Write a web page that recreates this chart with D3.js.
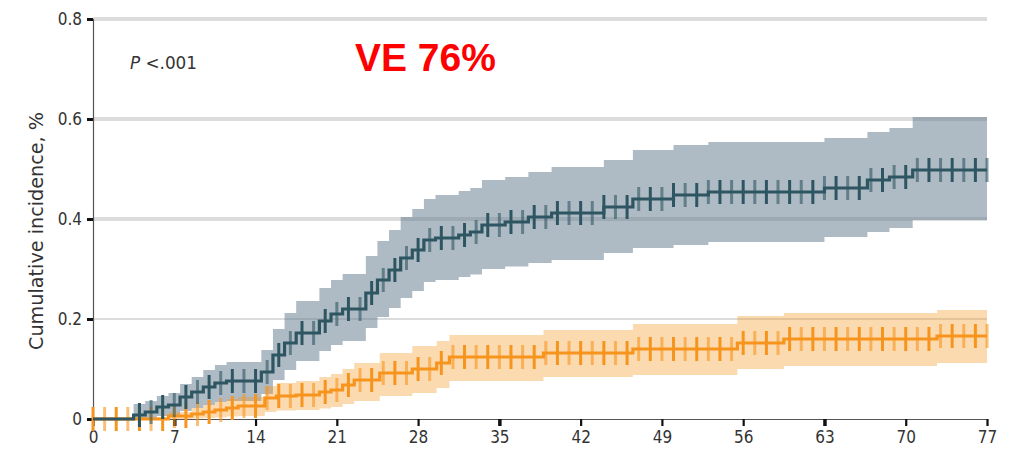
<!DOCTYPE html>
<html>
<head>
<meta charset="utf-8">
<script src="https://cdn.jsdelivr.net/npm/d3@7"></script>
<style>
  body { margin: 0; background: #fff; }
  text { font-family: "Liberation Sans Narrow", "DejaVu Sans Condensed", "Liberation Sans", sans-serif; }
</style>
</head>
<body>
<svg id="chart" width="1017" height="455"></svg>
<script>
const width = 1017;
const height = 455;
const svg = d3.select("#chart");

// placebo group: step times (days) and cumulative incidence (%)
const placeboT = [0, 3.5, 4.5, 5.5, 6.5, 7.5, 8.5, 9.5, 10.5, 11.5, 14.5, 15.5, 16.5, 17.5, 19.5, 20.5, 21.5, 23.5, 24.5, 25.5, 26.5, 27.5, 28.5, 29.5, 31.5, 32.5, 33.5, 35.5, 37.5, 39.5, 44, 46.5, 50, 53, 63, 66.7, 68.6, 70.6];
const placeboEst = [0, 0.008, 0.014, 0.024, 0.028, 0.044, 0.054, 0.064, 0.072, 0.076, 0.094, 0.128, 0.152, 0.172, 0.196, 0.21, 0.22, 0.252, 0.278, 0.298, 0.322, 0.338, 0.358, 0.362, 0.368, 0.374, 0.388, 0.394, 0.404, 0.412, 0.424, 0.44, 0.448, 0.454, 0.462, 0.478, 0.484, 0.498];
const placeboLo = [0, 0, 0.002, 0.006, 0.008, 0.016, 0.022, 0.028, 0.034, 0.036, 0.05, 0.078, 0.098, 0.116, 0.136, 0.148, 0.156, 0.182, 0.204, 0.222, 0.242, 0.256, 0.274, 0.278, 0.284, 0.289, 0.3, 0.305, 0.312, 0.318, 0.332, 0.342, 0.348, 0.354, 0.364, 0.374, 0.382, 0.398];
const placeboHi = [0, 0.03, 0.036, 0.046, 0.052, 0.07, 0.084, 0.098, 0.108, 0.114, 0.138, 0.18, 0.212, 0.236, 0.262, 0.278, 0.29, 0.326, 0.356, 0.378, 0.404, 0.42, 0.44, 0.448, 0.456, 0.462, 0.478, 0.484, 0.494, 0.504, 0.518, 0.538, 0.548, 0.554, 0.562, 0.574, 0.582, 0.604];

// vaccine group
const vaccineT = [0, 6.5, 8.5, 9.5, 10.5, 11.5, 12.5, 14.8, 15.8, 17.5, 19.5, 20.5, 21.5, 22.5, 24.7, 27.5, 29.6, 30.7, 38.8, 46.5, 55.5, 59.5, 72.7];
const vaccineEst = [0, 0.006, 0.01, 0.014, 0.018, 0.022, 0.026, 0.042, 0.046, 0.048, 0.054, 0.058, 0.068, 0.078, 0.092, 0.1, 0.112, 0.124, 0.132, 0.14, 0.152, 0.16, 0.166];
const vaccineLo = [0, 0, 0.001, 0.002, 0.003, 0.005, 0.006, 0.014, 0.017, 0.018, 0.021, 0.024, 0.03, 0.036, 0.046, 0.052, 0.062, 0.076, 0.084, 0.088, 0.1, 0.106, 0.112];
const vaccineHi = [0.004, 0.014, 0.022, 0.028, 0.034, 0.04, 0.044, 0.066, 0.072, 0.076, 0.084, 0.09, 0.1, 0.112, 0.132, 0.146, 0.156, 0.168, 0.178, 0.19, 0.206, 0.212, 0.218];

// censor marks (days)
const placeboCensor = [4, 5, 6, 7, 8, 9, 10, 11, 12, 13, 14, 15, 16, 17, 18, 19, 20, 21, 22, 23, 24, 25, 26, 27, 28, 29, 30, 31, 32, 33, 34, 35, 36, 37, 38, 39, 40, 41, 42, 43, 44, 45, 46, 47, 48, 49, 50, 51, 52, 53, 54, 55, 56, 57, 58, 59, 60, 61, 62, 63, 64, 65, 66, 67, 68, 69, 70, 71, 72, 73, 74, 75, 76, 77];
const vaccineCensor = [0, 1, 2, 3, 4, 5, 6, 7, 8, 9, 10, 11, 12, 13, 14, 15, 16, 17, 18, 19, 20, 21, 22, 23, 24, 25, 26, 27, 28, 29, 30, 31, 32, 33, 34, 35, 36, 37, 38, 39, 40, 41, 42, 43, 44, 45, 46, 47, 48, 49, 50, 51, 52, 53, 54, 55, 56, 57, 58, 59, 60, 61, 62, 63, 64, 65, 66, 67, 68, 69, 70, 71, 72, 73, 74, 75, 76, 77];

const xTicks = [0, 7, 14, 21, 28, 35, 42, 49, 56, 63, 70, 77];
const yTicks = [0, 0.2, 0.4, 0.6, 0.8];
const yLabels = ["0", "0.2", "0.4", "0.6", "0.8"];

const x = d3.scaleLinear().domain([0, 77]).range([93, 987]);
const y = d3.scaleLinear().domain([0, 0.8]).range([419, 19]);

const placeboColor = "#2e5662";
const vaccineColor = "#f7941d";

// gridlines
svg.append("g")
    .selectAll("line")
    .data(yTicks.filter(d => d > 0))
    .enter()
    .append("line")
    .attr("x1", x(0))
    .attr("x2", x(77))
    .attr("y1", d => y(d))
    .attr("y2", d => y(d))
    .attr("stroke", "#dcdcdc")
    .attr("stroke-width", d => d === 0.2 ? 2 : 4);

function toRows(t, est, lo, hi) {
    const rows = t.map((d, i) => ({ t: d, est: est[i], lo: lo[i], hi: hi[i] }));
    const last = rows[rows.length - 1];
    rows.push({ t: 77, est: last.est, lo: last.lo, hi: last.hi });
    return rows;
}

function stepValue(t, est, day) {
    let v = est[0];
    t.forEach((d, i) => { if (d <= day) v = est[i]; });
    return v;
}

const placeboRows = toRows(placeboT, placeboEst, placeboLo, placeboHi);
const vaccineRows = toRows(vaccineT, vaccineEst, vaccineLo, vaccineHi);

const band = d3.area()
    .curve(d3.curveStepAfter)
    .x(d => x(d.t))
    .y0(d => y(d.lo))
    .y1(d => y(d.hi));

const line = d3.line()
    .curve(d3.curveStepAfter)
    .x(d => x(d.t))
    .y(d => y(d.est));

svg.append("path")
    .datum(placeboRows)
    .attr("d", band)
    .attr("fill", "#667e8f")
    .attr("fill-opacity", 0.53);

svg.append("path")
    .datum(vaccineRows)
    .attr("d", band)
    .attr("fill", vaccineColor)
    .attr("fill-opacity", 0.35);

// axes
const yAxis = svg.append("g")
    .attr("transform", "translate(" + x(0) + ",0)")
    .call(d3.axisLeft(y).tickValues(yTicks).tickSize(6).tickFormat((d, i) => yLabels[i]));
yAxis.select(".domain").attr("stroke", "#555").attr("stroke-width", 1.2);
yAxis.selectAll(".tick line").attr("stroke", "#111").attr("stroke-width", 3);
yAxis.selectAll(".tick text")
    .attr("x", -11)
    .attr("fill", "#333")
    .style("font-size", "17px");

const xAxis = svg.append("g")
    .attr("transform", "translate(0," + y(0) + ")")
    .call(d3.axisBottom(x).tickValues(xTicks).tickSize(7));
xAxis.select(".domain").attr("stroke", "#555").attr("stroke-width", 1.2);
xAxis.selectAll(".tick line")
    .attr("stroke", "#111")
    .attr("stroke-width", d => (d === 7 || d === 35 || d === 63) ? 3.5 : 2.2);
xAxis.selectAll(".tick text")
    .attr("y", 12)
    .attr("fill", "#333")
    .style("font-size", "17px");

// curves
function drawCurve(rows, t, est, censor, color) {
    svg.append("path")
        .datum(rows)
        .attr("d", line)
        .attr("fill", "none")
        .attr("stroke", color)
        .attr("stroke-width", 3.2);

    svg.append("g")
        .selectAll("line")
        .data(censor)
        .enter()
        .append("line")
        .attr("x1", d => x(d))
        .attr("x2", d => x(d))
        .attr("y1", d => y(stepValue(t, est, d)) - 12)
        .attr("y2", d => y(stepValue(t, est, d)) + 12)
        .attr("stroke", color)
        .attr("stroke-width", 3)
        .attr("stroke-opacity", (d, i) => i % 2 === 0 ? 1 : 0.6);
}

drawCurve(vaccineRows, vaccineT, vaccineEst, vaccineCensor, vaccineColor);
drawCurve(placeboRows, placeboT, placeboEst, placeboCensor, placeboColor);

// labels
svg.append("text")
    .attr("transform", "translate(43,231) rotate(-90)")
    .attr("text-anchor", "middle")
    .attr("fill", "#333")
    .attr("textLength", 238)
    .attr("lengthAdjust", "spacingAndGlyphs")
    .style("font-size", "19px")
    .text("Cumulative incidence, %");

const pText = svg.append("text")
    .attr("x", 130)
    .attr("y", 69)
    .attr("fill", "#333")
    .attr("textLength", 67)
    .attr("lengthAdjust", "spacingAndGlyphs")
    .style("font-size", "17px");
pText.append("tspan").style("font-style", "italic").text("P");
pText.append("tspan").text(" <.001");

svg.append("text")
    .attr("x", 355)
    .attr("y", 71)
    .attr("fill", "#ff0000")
    .style("font-family", "'Liberation Sans', Arial, sans-serif")
    .style("font-weight", "bold")
    .style("font-size", "39px")
    .text("VE 76%");
</script>
</body>
</html>
